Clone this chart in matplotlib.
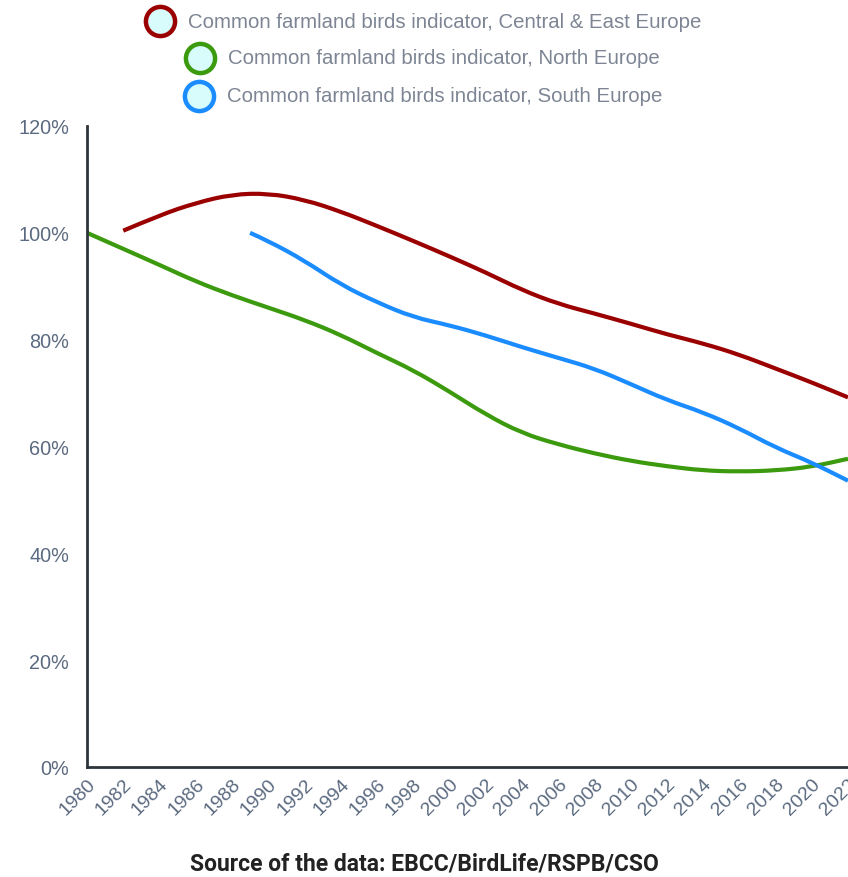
import matplotlib
matplotlib.use("Agg")
import matplotlib.pyplot as plt
from matplotlib.lines import Line2D
from matplotlib.path import Path
from matplotlib.patches import PathPatch

# data (index, % of start value)
years_ce = [1982, 1984, 1986, 1988, 1990, 1992, 1994, 1996, 1998, 2000, 2002,
            2004, 2006, 2008, 2010, 2012, 2014, 2016, 2018, 2020, 2022]
central_east = [100.4, 103.3, 105.6, 107.2, 107.4, 106.2, 104.0, 101.3, 98.5, 95.6, 92.6,
                89.3, 86.7, 84.9, 83.0, 81.0, 79.3, 77.2, 74.6, 72.0, 69.2]

years_n = [1980, 1982, 1984, 1986, 1988, 1990, 1992, 1994, 1996, 1998, 2000,
           2002, 2004, 2006, 2008, 2010, 2012, 2014, 2016, 2018, 2020, 2022]
north = [100.0, 97.0, 94.0, 90.9, 88.3, 86.0, 83.7, 80.9, 77.5, 74.3, 70.3,
         66.0, 62.5, 60.4, 58.7, 57.3, 56.3, 55.5, 55.3, 55.5, 56.2, 57.7]

years_s = [1989, 1990, 1992, 1994, 1996, 1998, 2000, 2002, 2004, 2006, 2008,
           2010, 2012, 2014, 2016, 2018, 2020, 2022]
south = [100.0, 98.5, 94.8, 90.3, 87.0, 84.2, 82.7, 80.8, 78.6, 76.6, 74.6,
         71.7, 68.7, 66.4, 63.4, 59.8, 57.0, 53.6]

labels = ["Common farmland birds indicator, Central & East Europe",
          "Common farmland birds indicator, North Europe",
          "Common farmland birds indicator, South Europe"]
colors = ["#9b0000", "#3c9a0e", "#1a8cff"]

plt.rcParams['font.family'] = ['Liberation Sans', 'DejaVu Sans']


# smooth curve through the points (quadratic beziers between midpoints)
def smooth_path(xs, ys):
    verts = [(xs[0], ys[0])]
    codes = [Path.MOVETO]
    for i in range(1, len(xs) - 1):
        mx = (xs[i] + xs[i + 1]) / 2
        my = (ys[i] + ys[i + 1]) / 2
        verts += [(xs[i], ys[i]), (mx, my)]
        codes += [Path.CURVE3, Path.CURVE3]
    verts.append((xs[-1], ys[-1]))
    codes.append(Path.LINETO)
    return Path(verts, codes)


fig = plt.figure(figsize=(8.48, 8.78), dpi=100)
ax = fig.add_axes([87 / 848, 1 - 768 / 878, 1 - 87 / 848, (768 - 127) / 878])

for xs, ys, c in zip([years_ce, years_n, years_s], [central_east, north, south], colors):
    ax.add_patch(PathPatch(smooth_path(xs, ys), facecolor='none', edgecolor=c,
                           linewidth=3, capstyle='butt', joinstyle='round'))

ax.set_xlim(1980, 2022)
ax.set_ylim(0, 120)
ax.set_xticks(range(1980, 2023, 2))
ax.set_xticklabels([str(y) for y in range(1980, 2023, 2)], rotation=45,
                   ha='right', va='top', rotation_mode='anchor')
ax.set_yticks(range(0, 121, 20))
ax.set_yticklabels([str(v) + "%" for v in range(0, 121, 20)])
ax.tick_params(axis='y', length=0, pad=13, labelsize=14.3, labelcolor='#5b6a80')
ax.tick_params(axis='x', length=0, pad=6, labelsize=14, labelcolor='#5b6a80')

for s in ['top', 'right']:
    ax.spines[s].set_visible(False)
for s in ['left', 'bottom']:
    ax.spines[s].set_color('#2e353b')
    ax.spines[s].set_linewidth(2)

# legend drawn by hand, rows are centred like the original
leg_pos = [(160, 22, 188), (200, 59, 228), (199, 97, 227)]
for (cx, cy, tx), lab, c in zip(leg_pos, labels, colors):
    fig.add_artist(Line2D([cx / 848], [1 - cy / 878], transform=fig.transFigure,
                          marker='o', markersize=21, markerfacecolor='#d8fbfb',
                          markeredgecolor=c, markeredgewidth=3.2, linestyle='none'))
    fig.text(tx / 848, 1 - cy / 878, lab, fontsize=14.7, color='#7d8594',
             ha='left', va='center')

fig.text(0.5, 1 - 864 / 878, "Source of the data: EBCC/BirdLife/RSPB/CSO",
         family=['Roboto', 'DejaVu Sans'], fontweight='bold', fontsize=16.5,
         color='#222222', ha='center', va='center')

fig.savefig("out.png", dpi=100)
